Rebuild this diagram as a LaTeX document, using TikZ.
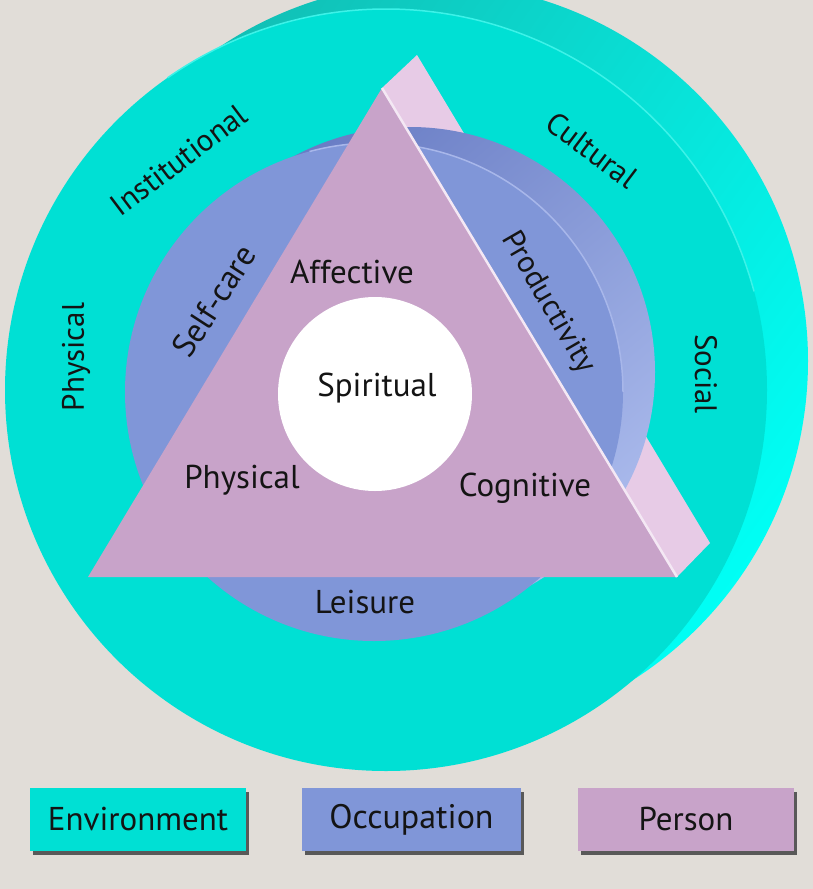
\documentclass[tikz,border=0pt]{standalone}
\usepackage{fontspec}
\setmainfont{PT Sans}
\usetikzlibrary{calc,shadows}
\definecolor{bg}{HTML}{E1DDD8}
\definecolor{envfront}{HTML}{00E0D4}
\definecolor{envdark}{HTML}{12BDB3}
\definecolor{envlight}{HTML}{00FFF5}
\definecolor{envhl}{HTML}{3DF2E8}
\definecolor{occfront}{HTML}{8096D8}
\definecolor{occdark}{HTML}{687CC4}
\definecolor{occlight}{HTML}{AABAEC}
\definecolor{occhl}{HTML}{A8B7EA}
\definecolor{perfront}{HTML}{C8A3C9}
\definecolor{perside}{HTML}{E7CBE6}
\definecolor{txt}{HTML}{141414}
\begin{document}
\begin{tikzpicture}[x=1pt,y=-1pt,
  lbl/.style={text=txt, font=\fontsize{33}{35}\selectfont, inner sep=0pt},
  outlbl/.style={text=txt, font=\fontsize{31}{33}\selectfont, inner sep=0pt},
  legbox/.style={minimum width=216pt, minimum height=63pt, inner sep=0pt,
    text=txt, font=\fontsize{33}{35}\selectfont,
    drop shadow={shadow xshift=3pt, shadow yshift=-4pt, fill=black!65, opacity=1}}]
\useasboundingbox (0,0) rectangle (813,889);
\fill[bg] (0,0) rectangle (813,889);
% environment cylinder (back face shaded, front face flat)
\shade[top color=envdark, middle color=envfront!70!envlight, bottom color=envlight, shading angle=55]
  (430,361) circle[radius=378];
\fill[envfront] (386,390) circle[radius=381];
\draw[envhl, line width=1.5] ($(386,390)+(235:381)$) arc[start angle=235, end angle=345, radius=381];
% person prism side face (behind the occupation disk)
\fill[perside] (382,88) -- (417,55) -- (710,543) -- (677,577) -- cycle;
% occupation cylinder
\shade[top color=occdark, middle color=occfront, bottom color=occlight, shading angle=40]
  (410,372) circle[radius=245];
\fill[occfront] (374,392) circle[radius=249];
\draw[occhl, line width=1.5] ($(374,392)+(255:249)$) arc[start angle=255, end angle=360, radius=249];
% person prism front face
\fill[perfront] (88,577) -- (677,577) -- (382,88) -- cycle;
\draw[white!55!perside, line width=2.5] (382,88) -- (677,577);
\fill[white] (375,394) circle[radius=97];
% labels
\node[lbl] (spiritual) at (377,388) {Spiritual};
\node[lbl] (affective) at (352,272) {Affective};
\node[lbl] (physin) at (242,480) {Physical};
\node[lbl] (cognitive) at (525,488) {Cognitive};
\node[lbl] (leisure) at (365,602) {Leisure};
\node[lbl, rotate=57] (selfcare) at (214,301) {Self-care};
\node[lbl, rotate=-60, font=\fontsize{31}{33}\selectfont] (productivity) at (548,303) {Productivity};
\node[outlbl, rotate=37] (institutional) at (179,160) {Institutional};
\node[outlbl, rotate=-37] (cultural) at (592,150) {Cultural};
\node[outlbl, rotate=90] (physout) at (76,357) {Physical};
\node[outlbl, rotate=-90] (social) at (706,374) {Social};
% legend
\node[legbox, fill=envfront] (envbox) at (138,819.5) {Environment};
\node[legbox, fill=occfront, minimum width=219pt, font=\fontsize{34}{36}\selectfont] (occbox) at (411.5,819.5) {Occupation};
\node[legbox, fill=perfront] (perbox) at (686,819.5) {Person};
\end{tikzpicture}
\end{document}
